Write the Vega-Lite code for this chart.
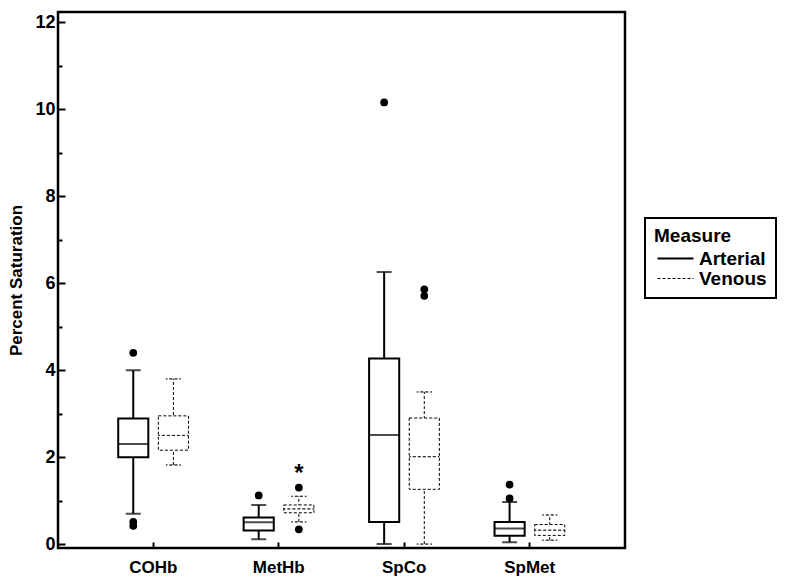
{
  "$schema": "https://vega.github.io/schema/vega-lite/v6.json",
  "width": 567,
  "height": 536,
  "autosize": "none",
  "padding": {"left": 58, "top": 12, "right": 170, "bottom": 40},
  "background": "white",
  "datasets": {
    "boxes": [
      {"Variable": "COHb", "Measure": "Arterial", "lo": 0.70, "q1": 2.00, "med": 2.30, "q3": 2.89, "hi": 4.00},
      {"Variable": "COHb", "Measure": "Venous", "lo": 1.82, "q1": 2.16, "med": 2.50, "q3": 2.95, "hi": 3.80},
      {"Variable": "MetHb", "Measure": "Arterial", "lo": 0.11, "q1": 0.31, "med": 0.50, "q3": 0.61, "hi": 0.90},
      {"Variable": "MetHb", "Measure": "Venous", "lo": 0.51, "q1": 0.72, "med": 0.81, "q3": 0.90, "hi": 1.10},
      {"Variable": "SpCo", "Measure": "Arterial", "lo": 0.00, "q1": 0.51, "med": 2.51, "q3": 4.27, "hi": 6.26},
      {"Variable": "SpCo", "Measure": "Venous", "lo": 0.00, "q1": 1.26, "med": 2.01, "q3": 2.90, "hi": 3.50},
      {"Variable": "SpMet", "Measure": "Arterial", "lo": 0.04, "q1": 0.19, "med": 0.36, "q3": 0.51, "hi": 0.97},
      {"Variable": "SpMet", "Measure": "Venous", "lo": 0.09, "q1": 0.20, "med": 0.32, "q3": 0.45, "hi": 0.67}
    ],
    "outliers": [
      {"Variable": "COHb", "Measure": "Arterial", "value": 4.40},
      {"Variable": "COHb", "Measure": "Arterial", "value": 0.42},
      {"Variable": "COHb", "Measure": "Arterial", "value": 0.51},
      {"Variable": "MetHb", "Measure": "Arterial", "value": 1.12},
      {"Variable": "MetHb", "Measure": "Venous", "value": 1.30},
      {"Variable": "MetHb", "Measure": "Venous", "value": 0.34},
      {"Variable": "SpCo", "Measure": "Arterial", "value": 10.16},
      {"Variable": "SpCo", "Measure": "Venous", "value": 5.86},
      {"Variable": "SpCo", "Measure": "Venous", "value": 5.71},
      {"Variable": "SpMet", "Measure": "Arterial", "value": 1.37},
      {"Variable": "SpMet", "Measure": "Arterial", "value": 1.05}
    ],
    "marks": [
      {"Variable": "MetHb", "Measure": "Venous", "value": 1.46, "label": "*"}
    ]
  },
  "encoding": {
    "x": {
      "field": "Variable",
      "type": "nominal",
      "sort": ["COHb", "MetHb", "SpCo", "SpMet"],
      "scale": {"paddingInner": 0, "paddingOuter": 0.26},
      "axis": {"title": null, "labelAngle": 0, "tickSize": -6, "labelPadding": 17, "labelFontSize": 17}
    },
    "xOffset": {
      "field": "Measure",
      "type": "nominal",
      "sort": ["Arterial", "Venous"],
      "scale": {"paddingInner": 0.25, "paddingOuter": 0.6875}
    }
  },
  "layer": [
    {
      "data": {"name": "boxes"},
      "mark": {"type": "rule", "color": "black"},
      "encoding": {
        "y": {
          "field": "lo",
          "type": "quantitative",
          "title": "Percent Saturation",
          "scale": {"domain": [-0.09, 12.24], "nice": false, "zero": false},
          "axis": {
            "values": [0, 1, 2, 3, 4, 5, 6, 7, 8, 9, 10, 11, 12],
            "labelExpr": "datum.value % 2 === 0 ? datum.label : ''",
            "tickSize": {"condition": {"test": "datum.value % 2 === 0", "value": -7}, "value": -4},
            "labelPadding": 10,
            "titlePadding": 9,
            "labelFontSize": 18,
            "titleFontSize": 17
          }
        },
        "y2": {"field": "hi"},
        "strokeDash": {
          "field": "Measure",
          "type": "nominal",
          "scale": {"domain": ["Arterial", "Venous"], "range": [[1, 0], [3, 2]]},
          "legend": {
            "orient": "none",
            "legendX": 587,
            "legendY": 206,
            "symbolOffset": 12,
            "labelOffset": 14,
            "encode": {"symbols": {"update": {"strokeWidth": {"signal": "datum.value === 'Arterial' ? 2 : 1"}}}}
          }
        },
        "strokeWidth": {"condition": {"test": "datum.Measure === 'Arterial'", "value": 2}, "value": 1}
      }
    },
    {
      "data": {"name": "boxes"},
      "mark": {"type": "bar", "fill": "white", "stroke": "black"},
      "encoding": {
        "y": {"field": "q1", "type": "quantitative", "title": "Percent Saturation"},
        "y2": {"field": "q3"},
        "strokeDash": {"field": "Measure", "type": "nominal"},
        "strokeWidth": {"condition": {"test": "datum.Measure === 'Arterial'", "value": 2}, "value": 1}
      }
    },
    {
      "data": {"name": "boxes"},
      "mark": {"type": "tick", "color": "black", "filled": false, "thickness": 0, "size": 30, "strokeDashOffset": 1.5},
      "encoding": {
        "y": {"field": "med", "type": "quantitative", "title": "Percent Saturation"},
        "strokeDash": {"field": "Measure", "type": "nominal"},
        "strokeWidth": {"condition": {"test": "datum.Measure === 'Arterial'", "value": 2}, "value": 1}
      }
    },
    {
      "data": {"name": "boxes"},
      "mark": {"type": "tick", "color": "black", "filled": false, "thickness": 0, "size": 15, "strokeDashOffset": 1.5},
      "encoding": {
        "y": {"field": "lo", "type": "quantitative", "title": "Percent Saturation"},
        "strokeDash": {"field": "Measure", "type": "nominal"},
        "strokeWidth": {"condition": {"test": "datum.Measure === 'Arterial'", "value": 2}, "value": 1}
      }
    },
    {
      "data": {"name": "boxes"},
      "mark": {"type": "tick", "color": "black", "filled": false, "thickness": 0, "size": 15, "strokeDashOffset": 1.5},
      "encoding": {
        "y": {"field": "hi", "type": "quantitative", "title": "Percent Saturation"},
        "strokeDash": {"field": "Measure", "type": "nominal"},
        "strokeWidth": {"condition": {"test": "datum.Measure === 'Arterial'", "value": 2}, "value": 1}
      }
    },
    {
      "data": {"name": "outliers"},
      "mark": {"type": "point", "filled": true, "color": "black", "size": 60, "opacity": 1},
      "encoding": {
        "y": {"field": "value", "type": "quantitative", "title": "Percent Saturation"}
      }
    },
    {
      "data": {"name": "marks"},
      "mark": {"type": "text", "color": "black", "fontSize": 24, "fontWeight": "bold", "font": "Liberation Sans", "baseline": "alphabetic"},
      "encoding": {
        "y": {"field": "value", "type": "quantitative", "title": "Percent Saturation"},
        "text": {"field": "label"}
      }
    }
  ],
  "config": {
    "view": {"stroke": "black", "strokeWidth": 2.5},
    "axis": {
      "domain": false,
      "grid": false,
      "labelFont": "Liberation Sans",
      "labelFontWeight": "bold",
      "labelColor": "black",
      "tickColor": "black",
      "tickWidth": 2,
      "titleFont": "Liberation Sans",
      "titleFontWeight": "bold",
      "titleColor": "black"
    },
    "legend": {
      "strokeColor": "black",
      "strokeWidth": 2,
      "padding": 9,
      "titleFont": "Liberation Sans",
      "titleFontSize": 19,
      "titleFontWeight": "bold",
      "titleColor": "black",
      "titlePadding": 3,
      "labelFont": "Liberation Sans",
      "labelFontSize": 19,
      "labelFontWeight": "bold",
      "labelColor": "black",
      "symbolType": "stroke",
      "symbolSize": 1296,
      "symbolStrokeColor": "black",
      "rowPadding": -6
    }
  }
}
